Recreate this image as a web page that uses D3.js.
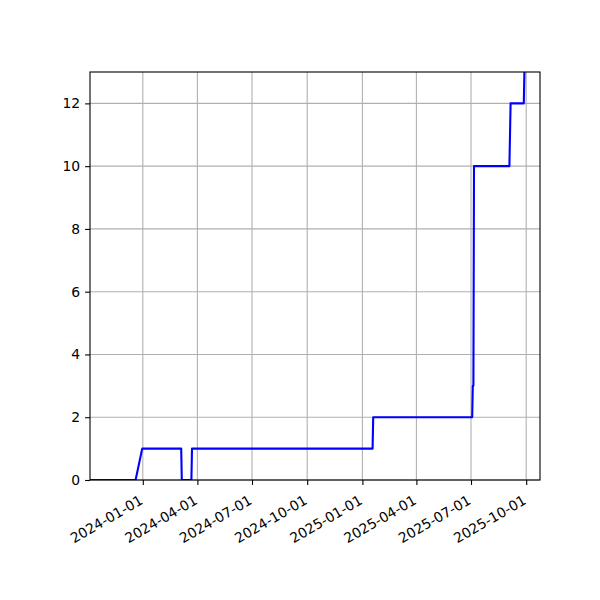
<!DOCTYPE html>
<head>
  <meta charset="utf-8">
  <script src="https://d3js.org/d3.v7.min.js"></script>
  <style>
    body { margin: 0; background: #fff; }
    svg { width: 600px; height: 600px; }
    text { font-family: 'DejaVu Sans', sans-serif; }
  </style>
</head>

<body>
  <svg></svg>

  <script>
    const width = 600;
    const height = 600;
    const margin = {left: 90, right: 60, top: 72, bottom: 120};

    // data
    const dates = [
      '2023-10-05', '2023-12-20', '2023-12-31', '2024-03-05', '2024-03-06',
      '2024-03-22', '2024-03-23', '2025-01-18', '2025-01-19', '2025-07-03',
      '2025-07-04', '2025-07-05', '2025-07-06', '2025-09-03', '2025-09-05',
      '2025-09-27', '2025-09-28'
    ];
    const counts = [0, 0, 1, 1, 0, 0, 1, 1, 2, 2, 3, 3, 10, 10, 12, 12, 13];

    const xLimits = ['2023-10-05', '2025-10-24'];
    const yLimits = [0, 13];
    const xTickLabels = ['2024-01-01', '2024-04-01', '2024-07-01', '2024-10-01',
                         '2025-01-01', '2025-04-01', '2025-07-01', '2025-10-01'];
    const yTicks = [0, 2, 4, 6, 8, 10, 12];

    const parse = d3.utcParse('%Y-%m-%d');
    const points = dates.map((d, i) => ({date: parse(d), value: counts[i]}));

    const svg = d3.select('svg');
    const x0 = margin.left, x1 = width - margin.right;
    const y0 = height - margin.bottom, y1 = margin.top;

    const x = d3.scaleUtc().domain(xLimits.map(parse)).range([x0, x1]);
    const y = d3.scaleLinear().domain(yLimits).range([y0, y1]);

    const tickDates = xTickLabels.map(parse);

    // grid
    svg.append('g').selectAll('line.gx')
      .data(tickDates).enter().append('line')
      .attr('x1', d => x(d)).attr('x2', d => x(d))
      .attr('y1', y0).attr('y2', y1)
      .attr('stroke', '#b0b0b0').attr('stroke-width', 1.1);
    svg.append('g').selectAll('line.gy')
      .data(yTicks).enter().append('line')
      .attr('x1', x0).attr('x2', x1)
      .attr('y1', d => y(d)).attr('y2', d => y(d))
      .attr('stroke', '#b0b0b0').attr('stroke-width', 1.1);

    // the line
    svg.append('clipPath').attr('id', 'clip')
      .append('rect').attr('x', x0).attr('y', y1)
      .attr('width', x1 - x0).attr('height', y0 - y1);

    const line = d3.line().x(d => x(d.date)).y(d => y(d.value));
    svg.append('path')
      .datum(points)
      .attr('clip-path', 'url(#clip)')
      .attr('d', line)
      .attr('fill', 'none')
      .attr('stroke', '#0000ff')
      .attr('stroke-width', 2.1)
      .attr('stroke-linejoin', 'round');

    // axes
    const xAxis = svg.append('g')
      .attr('transform', `translate(0,${y0})`)
      .call(d3.axisBottom(x).tickValues(tickDates).tickFormat(d3.utcFormat('%Y-%m-%d'))
        .tickSize(4.9));
    // rotated labels, right end of each label sits just left of its tick
    xAxis.selectAll('text')
      .attr('font-size', '13.9px')
      .attr('fill', '#000')
      .attr('text-anchor', 'end')
      .attr('x', 0).attr('y', 0).attr('dy', 0)
      .attr('transform', 'translate(0.5,23.2) rotate(-30)');

    const yAxis = svg.append('g')
      .attr('transform', `translate(${x0},0)`)
      .call(d3.axisLeft(y).tickValues(yTicks).tickSize(4.9).tickPadding(4.9));
    yAxis.selectAll('text').attr('font-size', '13.9px').attr('fill', '#000');

    svg.selectAll('.domain').remove();
    svg.selectAll('.tick line').attr('stroke', '#000').attr('stroke-width', 1.1);

    // frame
    svg.append('rect')
      .attr('x', x0).attr('y', y1)
      .attr('width', x1 - x0).attr('height', y0 - y1)
      .attr('fill', 'none').attr('stroke', '#000').attr('stroke-width', 1.1);
  </script>
</body>
